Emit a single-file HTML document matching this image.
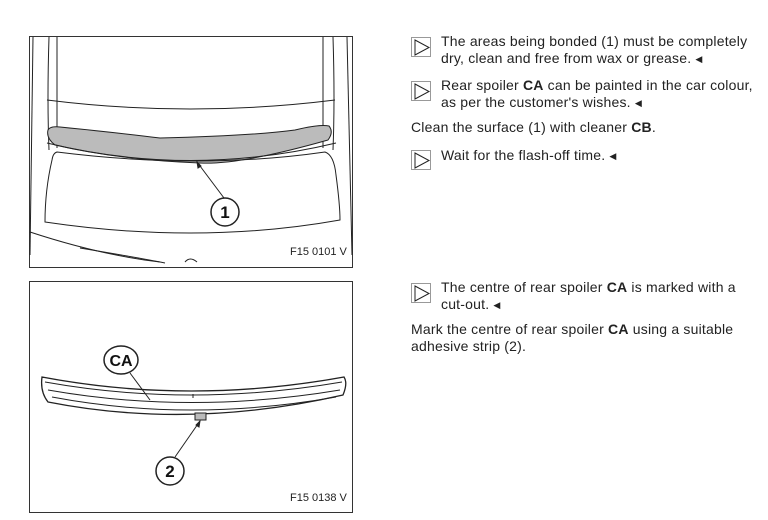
<!DOCTYPE html>
<html><head><meta charset="utf-8"><style>
body{margin:0;width:768px;height:520px;background:#fff;position:relative;overflow:hidden;font-family:"Liberation Sans",sans-serif;color:#222}
.t{position:absolute;font-size:14px;line-height:17px;white-space:nowrap;letter-spacing:0.2px}
.ic{position:absolute;width:20px;height:20px;border:1px solid #999;box-sizing:border-box}
.ic svg{position:absolute;left:0;top:0}
.e{font-size:9px;vertical-align:1px}
b{font-weight:bold}
</style></head><body>
<svg width="768" height="520" style="position:absolute;left:0;top:0" fill="none" stroke="#222" stroke-width="1">
<rect x="29.5" y="36.5" width="323" height="231" stroke="#333"/>
<path d="M33 37 Q31 150 30 255"/>
<path d="M49 37 Q47 100 49 150"/>
<path d="M57 37 L57 148"/>
<path d="M323 37 L323 148"/>
<path d="M333 37 Q335 100 333 150"/>
<path d="M347 37 Q350 150 352 255"/>
<path d="M47 100 Q190 118 335 100"/>
<path d="M48 130 Q50 126 60 127 Q120 133 160 138 Q250 136 295 130 Q320 124 329 126 Q334 132 328 140 Q240 165 200 163 Q120 160 55 145 Q46 138 48 130Z" fill="#bbb"/>
<path d="M47 143 Q190 178 336 143"/>
<path d="M57 152 Q200 170 325 152 Q334 155 336 175 Q340 205 340 220 Q200 245 45 222 Q45 190 52 160 Q53 153 57 152Z"/>
<path d="M30 232 Q100 255 160 262"/>
<path d="M80 248 Q140 258 165 263"/>
<path d="M185 262 Q190 256 197 262"/>
<path d="M197 162 L224 198"/>
<path d="M197 162 L198 168 L201 166Z" fill="#222"/>
<circle cx="225" cy="212" r="14" fill="#fff" stroke-width="1.5"/>
<text x="225" y="218" font-size="17" font-weight="bold" text-anchor="middle" fill="#111" stroke="none" font-family="Liberation Sans">1</text>
<text x="290" y="255" font-size="11" fill="#222" stroke="none" font-family="Liberation Sans">F15 0101 V</text>
<rect x="29.5" y="281.5" width="323" height="231" stroke="#333"/>
<path d="M42 377 Q190 405 344 377 Q348 383 343 395 Q190 430 48 402 Q40 392 42 377Z" stroke-width="1.3"/>
<path d="M45 382 Q190 408 342 382"/>
<path d="M48 390 Q190 415 340 390"/>
<path d="M52 397 Q190 423 336 397"/>
<line x1="193" y1="394" x2="193" y2="398"/>
<rect x="195" y="413" width="11" height="7" fill="#bbb"/>
<path d="M130 373 L150 400"/>
<path d="M200 421 L175 457"/>
<path d="M200 421 L196 425 L199 427Z" fill="#222"/>
<ellipse cx="121" cy="360" rx="17" ry="14" fill="#fff" stroke-width="1.5"/>
<text x="121" y="366" font-size="16" font-weight="bold" text-anchor="middle" fill="#111" stroke="none" font-family="Liberation Sans">CA</text>
<circle cx="170" cy="471" r="14" fill="#fff" stroke-width="1.5"/>
<text x="170" y="477" font-size="17" font-weight="bold" text-anchor="middle" fill="#111" stroke="none" font-family="Liberation Sans">2</text>
<text x="290" y="501" font-size="11" fill="#222" stroke="none" font-family="Liberation Sans">F15 0138 V</text>
</svg>

<div class="ic" style="left:411px;top:37px"><svg width="20" height="20"><path d="M3 2 L17 9.5 L3 17Z" fill="none" stroke="#222"/></svg></div>
<div class="t" style="left:441px;top:33px">The areas being bonded (1) must be completely</div>
<div class="t" style="left:441px;top:50px">dry, clean and free from wax or grease. <span class="e">&#9664;&#xFE0E;</span></div>
<div class="ic" style="left:411px;top:81px"><svg width="20" height="20"><path d="M3 2 L17 9.5 L3 17Z" fill="none" stroke="#222"/></svg></div>
<div class="t" style="left:441px;top:77px">Rear spoiler <b>CA</b> can be painted in the car colour,</div>
<div class="t" style="left:441px;top:94px">as per the customer's wishes. <span class="e">&#9664;&#xFE0E;</span></div>
<div class="t" style="left:411px;top:119px">Clean the surface (1) with cleaner <b>CB</b>.</div>
<div class="ic" style="left:411px;top:150px"><svg width="20" height="20"><path d="M3 2 L17 9.5 L3 17Z" fill="none" stroke="#222"/></svg></div>
<div class="t" style="left:441px;top:147px">Wait for the flash-off time. <span class="e">&#9664;&#xFE0E;</span></div>

<div class="ic" style="left:411px;top:283px"><svg width="20" height="20"><path d="M3 2 L17 9.5 L3 17Z" fill="none" stroke="#222"/></svg></div>
<div class="t" style="left:441px;top:279px">The centre of rear spoiler <b>CA</b> is marked with a</div>
<div class="t" style="left:441px;top:296px">cut-out. <span class="e">&#9664;&#xFE0E;</span></div>
<div class="t" style="left:411px;top:321px">Mark the centre of rear spoiler <b>CA</b> using a suitable</div>
<div class="t" style="left:411px;top:338px">adhesive strip (2).</div>
</body></html>
